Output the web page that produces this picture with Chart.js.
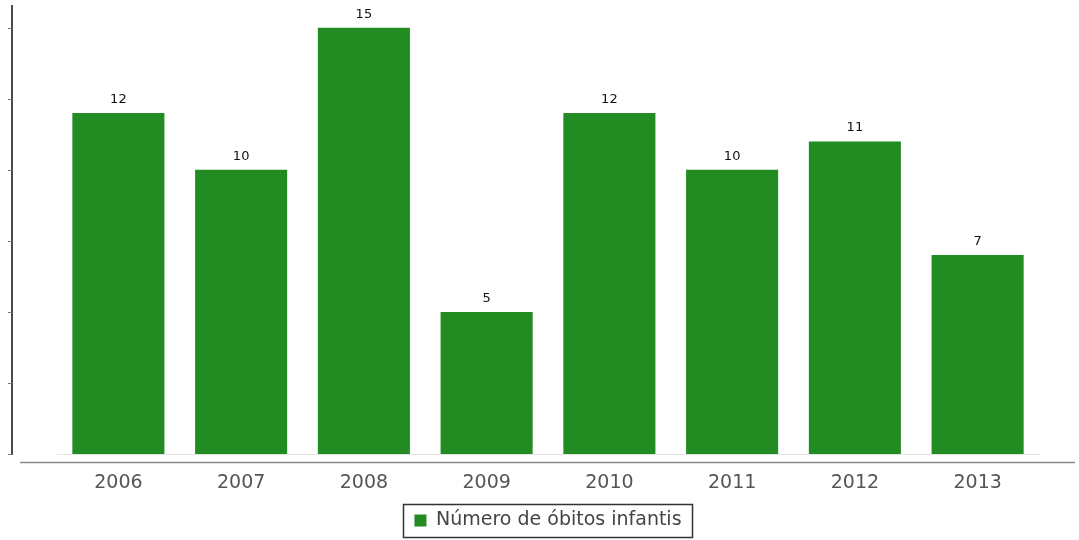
<!DOCTYPE html>
<html>
<head>
<meta charset="utf-8">
<script src="https://cdn.jsdelivr.net/npm/chart.js@4.4.1/dist/chart.umd.min.js"></script>
<style>
    html, body { margin: 0; padding: 0; background: #fff; }
    canvas { display: block; }
</style>
</head>
<body>
<canvas id="obitosChart" width="1079" height="540"></canvas>
<script>
// Infant deaths per year
const years = ['2006', '2007', '2008', '2009', '2010', '2011', '2012', '2013'];
const obitos = [12, 10, 15, 5, 12, 10, 11, 7];
const yTicks = [0, 2.5, 5, 7.5, 10, 12.5, 15];
const yMax = 15.8;

const barColor = '#228b22';

// Left axis line with short ticks, drawn off to the left of the bars
const sideAxis = {
    id: 'sideAxis',
    afterDraw(chart) {
        const ctx = chart.ctx;
        const area = chart.chartArea;
        const y = chart.scales.y;
        const axisX = area.left - 45;
        ctx.save();
        ctx.strokeStyle = '#111';
        ctx.lineWidth = 1.5;
        ctx.beginPath();
        ctx.moveTo(axisX, y.getPixelForValue(yMax));
        ctx.lineTo(axisX, y.getPixelForValue(0) + 1);
        ctx.stroke();
        ctx.strokeStyle = '#777';
        ctx.lineWidth = 1;
        yTicks.forEach(function (v) {
            const py = Math.round(y.getPixelForValue(v)) + 0.5;
            ctx.beginPath();
            ctx.moveTo(axisX - 4, py);
            ctx.lineTo(axisX, py);
            ctx.stroke();
        });
        // baseline under the categories
        const baseY = Math.round(y.getPixelForValue(0)) + 8.5;
        ctx.strokeStyle = '#8a8a8a';
        ctx.lineWidth = 1.5;
        ctx.beginPath();
        ctx.moveTo(area.left - 37, baseY);
        ctx.lineTo(area.right + 36, baseY);
        ctx.stroke();
        ctx.restore();
    }
};

// Value printed above each bar
const barValues = {
    id: 'barValues',
    afterDatasetsDraw(chart) {
        const ctx = chart.ctx;
        const meta = chart.getDatasetMeta(0);
        ctx.save();
        ctx.fillStyle = '#111';
        ctx.font = '13px "DejaVu Sans"';
        ctx.textAlign = 'center';
        ctx.textBaseline = 'bottom';
        meta.data.forEach(function (bar, i) {
            ctx.fillText(obitos[i], bar.x, bar.y - 7);
        });
        ctx.restore();
    }
};

// Frame around the legend entry
const legendFrame = {
    id: 'legendFrame',
    afterDraw(chart) {
        const boxes = chart.legend.legendHitBoxes;
        if (!boxes || !boxes.length) return;
        const b = boxes[0];
        const ctx = chart.ctx;
        ctx.save();
        ctx.strokeStyle = '#333';
        ctx.lineWidth = 1.5;
        ctx.strokeRect(Math.round(b.left - 11) + 0.5, Math.round(b.top - 7) + 0.5,
            Math.round(b.width + 22), Math.round(b.height + 14));
        ctx.restore();
    }
};

new Chart(document.getElementById('obitosChart').getContext('2d'), {
    type: 'bar',
    data: {
        labels: years,
        datasets: [{
            label: 'Número de óbitos infantis',
            data: obitos,
            backgroundColor: barColor,
            borderWidth: 0,
            barPercentage: 0.75,
            categoryPercentage: 1.0
        }]
    },
    options: {
        responsive: false,
        animation: false,
        layout: {
            padding: { left: 57, right: 40, top: 5, bottom: 0 }
        },
        plugins: {
            legend: {
                position: 'bottom',
                labels: {
                    color: '#444',
                    font: { family: '"DejaVu Sans"', size: 19 },
                    boxWidth: 12,
                    boxHeight: 12,
                    padding: 12
                }
            },
            tooltip: { enabled: false }
        },
        scales: {
            x: {
                grid: { display: false },
                border: { display: true, color: '#e4e4e4', width: 1 },
                ticks: {
                    color: '#555',
                    font: { family: '"DejaVu Sans"', size: 19 },
                    padding: 10
                },
                afterFit(scale) { scale.height = 45; }
            },
            y: {
                display: false,
                min: 0,
                max: yMax
            }
        }
    },
    plugins: [sideAxis, barValues, legendFrame]
});
</script>
</body>
</html>
